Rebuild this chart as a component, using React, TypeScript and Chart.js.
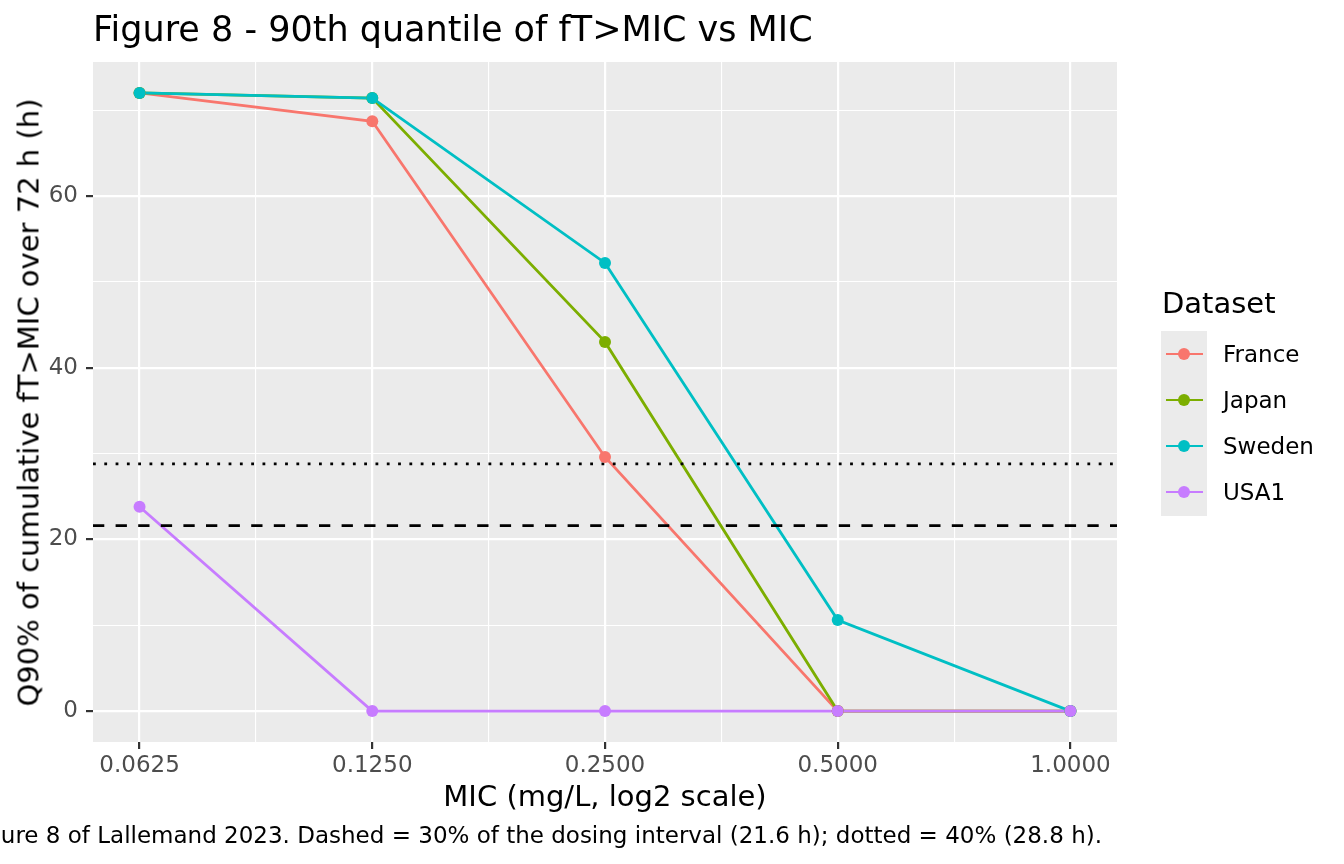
import React, { useEffect, useRef } from "react";
import { Chart, registerables } from "chart.js";

Chart.register(...registerables);

// MIC categories (mg/L) and their tick labels
const micValues = [0.0625, 0.125, 0.25, 0.5, 1];
const micLabels = ["0.0625", "0.1250", "0.2500", "0.5000", "1.0000"];

// Q90% of cumulative fT>MIC over 72 h (h)
const france = [72.0, 68.7, 29.6, 0, 0];
const japan = [72.0, 71.4, 43.0, 0, 0];
const sweden = [72.0, 71.4, 52.2, 10.6, 0];
const usa1 = [23.8, 0, 0, 0, 0];

const seriesNames = ["France", "Japan", "Sweden", "USA1"];
const seriesColors = ["#F8766D", "#7CAE00", "#00BFC4", "#C77CFF"];

// reference lines: 30% and 40% of the 72 h dosing interval
const dashedLevel = 21.6;
const dottedLevel = 28.8;

// y ticks (major every 20, minor every 10)
const yGrid = [0, 10, 20, 30, 40, 50, 60, 70];
const yLabelled = [0, 20, 40, 60];

const FONT = "DejaVu Sans";
const LINE_W = 2.8;
const PT_R = 6;

const panelBg = {
  id: "panelBg",
  beforeDraw(chart: any) {
    const { ctx, chartArea: a } = chart;
    ctx.save();
    ctx.fillStyle = "#EBEBEB";
    ctx.fillRect(a.left, a.top, a.right - a.left, a.bottom - a.top);
    ctx.restore();
  },
};

// dashed / dotted horizontal lines, drawn over the series lines but under the points
const refLines = {
  id: "refLines",
  afterDatasetDraw(chart: any, args: any) {
    if (args.index !== 3) return;
    const { ctx, chartArea: a, scales } = chart;
    ctx.save();
    ctx.strokeStyle = "#000";
    ctx.lineWidth = 2.8;
    const draw = (v: number, dash: number[]) => {
      const y = scales.y.getPixelForValue(v);
      ctx.setLineDash(dash);
      ctx.beginPath();
      ctx.moveTo(a.left, y);
      ctx.lineTo(a.right, y);
      ctx.stroke();
    };
    draw(dashedLevel, [11.3, 11.3]);
    draw(dottedLevel, [2.8, 8.5]);
    ctx.restore();
  },
};

const ChartView = () => {
  const canvasRef = useRef<HTMLCanvasElement>(null);

  useEffect(() => {
    const ctx = canvasRef.current!.getContext("2d") as CanvasRenderingContext2D;
    const micLog = micValues.map((m) => Math.log2(m));
    const allSeries = [france, japan, sweden, usa1];

    const lineSets = allSeries.map((s, i) => ({
      label: seriesNames[i],
      data: s.map((v, j) => ({ x: micLog[j], y: v })),
      borderColor: seriesColors[i],
      backgroundColor: seriesColors[i],
      borderWidth: LINE_W,
      pointRadius: 0,
      tension: 0,
      order: 8 - i,
    }));
    const pointSets = allSeries.map((s, i) => ({
      label: seriesNames[i] + " pts",
      data: s.map((v, j) => ({ x: micLog[j], y: v })),
      showLine: false,
      pointRadius: PT_R,
      pointBorderWidth: 0,
      pointBackgroundColor: seriesColors[i],
      borderColor: seriesColors[i],
      order: 4 - i,
    }));

    const xMin = micLog[0] - 0.05 * (micLog[4] - micLog[0]);
    const xMax = micLog[4] + 0.05 * (micLog[4] - micLog[0]);
    const xGrid: number[] = [];
    for (let i = 0; i < micLog.length; i++) {
      xGrid.push(micLog[i]);
      if (i < micLog.length - 1) xGrid.push((micLog[i] + micLog[i + 1]) / 2);
    }

    const isMajorX = (v: number) => micLog.indexOf(v) >= 0;
    const isMajorY = (v: number) => yLabelled.indexOf(v) >= 0;

    const chart = new Chart(ctx, {
      type: "line",
      data: { datasets: [...lineSets, ...pointSets] as any },
      options: {
        animation: false,
        responsive: false,
        layout: { padding: { top: 62, right: 227, left: 0, bottom: 0 } },
        plugins: { legend: { display: false }, tooltip: { enabled: false } },
        scales: {
          x: {
            type: "linear",
            min: xMin,
            max: xMax,
            afterBuildTicks: (s: any) => {
              s.ticks = xGrid.map((v) => ({ value: v }));
            },
            afterFit: (s: any) => {
              s.height = 122;
            },
            border: { display: false },
            grid: {
              color: "#FFFFFF",
              lineWidth: (c: any) => (isMajorX(c.tick.value) ? 2.2 : 1.1),
              tickLength: 7,
              tickWidth: 2.2,
              tickColor: (c: any) => (isMajorX(c.tick.value) ? "#333333" : "rgba(0,0,0,0)"),
            },
            ticks: {
              autoSkip: false,
              maxRotation: 0,
              padding: 3,
              color: "#4D4D4D",
              font: { family: FONT, size: 23 },
              callback: (v: any) => {
                const k = micLog.indexOf(Number(v));
                return k >= 0 ? micLabels[k] : "";
              },
            },
          },
          y: {
            type: "linear",
            min: -3.6,
            max: 75.6,
            afterBuildTicks: (s: any) => {
              s.ticks = yGrid.map((v) => ({ value: v }));
            },
            afterFit: (s: any) => {
              s.width = 93;
            },
            border: { display: false },
            grid: {
              color: "#FFFFFF",
              lineWidth: (c: any) => (isMajorY(c.tick.value) ? 2.2 : 1.1),
              tickLength: 7,
              tickWidth: 2.2,
              tickColor: (c: any) => (isMajorY(c.tick.value) ? "#333333" : "rgba(0,0,0,0)"),
            },
            ticks: {
              autoSkip: false,
              padding: 8,
              color: "#4D4D4D",
              font: { family: FONT, size: 23 },
              callback: (v: any) => (isMajorY(Number(v)) ? String(v) : ""),
            },
          },
        },
      },
      plugins: [panelBg, refLines],
    });

    return () => {
      chart.destroy();
    };
  }, []);

  return <canvas ref={canvasRef} width={1344} height={864} style={{ position: "absolute", left: 0, top: 0 }} />;
};

const txt = (size: number, color = "#000"): React.CSSProperties => ({
  position: "absolute",
  fontFamily: FONT,
  fontSize: size,
  lineHeight: `${size}px`,
  color,
  whiteSpace: "nowrap",
});

const App = () => {
  const keyTop = [331, 377, 423, 469];
  return (
    <div style={{ position: "relative", width: 1344, height: 864, background: "#fff", overflow: "hidden" }}>
      <style>{`body{margin:0}`}</style>
      <ChartView />
      <div style={{ ...txt(35), left: 93, top: 12 }}>Figure 8 - 90th quantile of fT&gt;MIC vs MIC</div>
      <div style={{ ...txt(29), left: 305, width: 600, top: 782, textAlign: "center" }}>MIC (mg/L, log2 scale)</div>
      <div
        style={{
          ...txt(29),
          left: 29 - 400,
          top: 402 - 14.5,
          width: 800,
          textAlign: "center",
          transform: "rotate(-90deg)",
        }}
      >
        Q90% of cumulative fT&gt;MIC over 72 h (h)
      </div>
      <div style={{ ...txt(23), right: 242, top: 824 }}>
        Figure 8 of Lallemand 2023. Dashed = 30% of the dosing interval (21.6 h); dotted = 40% (28.8 h).
      </div>
      <div style={{ ...txt(29), left: 1162, top: 289 }}>Dataset</div>
      <div style={{ position: "absolute", left: 1161, top: 331, width: 46, height: 185, background: "#EBEBEB" }} />
      {seriesNames.map((n, i) => {
        const cy = keyTop[i] + 23;
        return (
          <React.Fragment key={n}>
            <div
              style={{
                position: "absolute",
                left: 1166,
                top: cy - LINE_W / 2,
                width: 37,
                height: LINE_W,
                background: seriesColors[i],
              }}
            />
            <div
              style={{
                position: "absolute",
                left: 1184 - PT_R,
                top: cy - PT_R,
                width: PT_R * 2,
                height: PT_R * 2,
                borderRadius: "50%",
                background: seriesColors[i],
              }}
            />
            <div style={{ ...txt(23), left: 1223, top: cy - 11.2 }}>{n}</div>
          </React.Fragment>
        );
      })}
    </div>
  );
};

export default App;
